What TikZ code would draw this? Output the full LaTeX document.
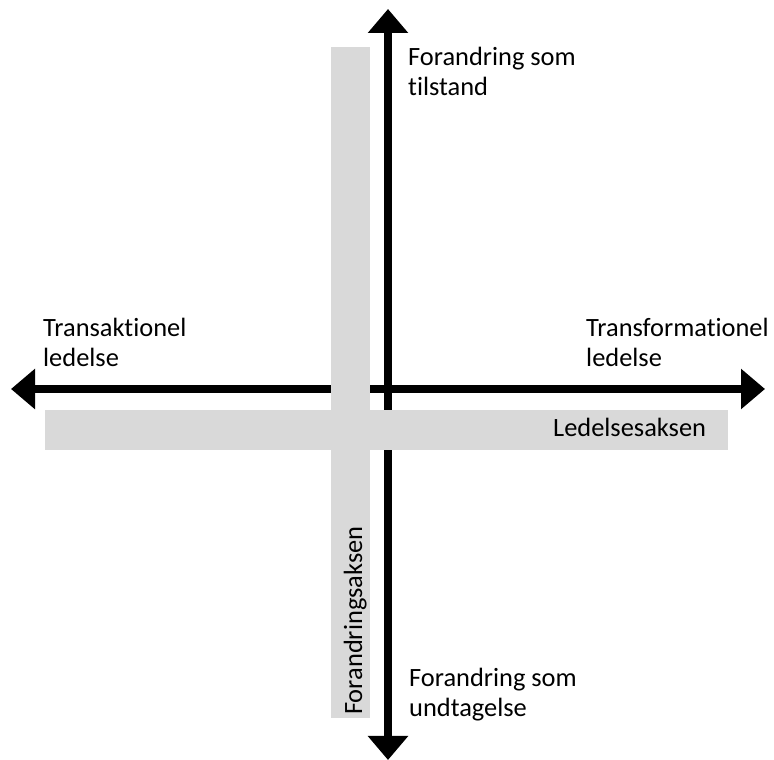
\documentclass[tikz,border=0pt]{standalone}
\usepackage{fontspec}
\setmainfont{Carlito}[Ligatures=NoCommon]
\usetikzlibrary{arrows.meta}
\definecolor{bandgray}{RGB}{217,217,217}

\tikzset{
    akse/.style={line width=8pt, -{Triangle[width=39pt,length=24pt]}},
    band/.style={fill=bandgray},
    lbl/.style={inner sep=0pt, anchor=base west, align=left,
        font=\fontsize{26.4}{30}\selectfont}
}

\begin{document}
\begin{tikzpicture}[x=1pt,y=1pt]
        \useasboundingbox (0,0) rectangle (774,760);
        \coordinate (M) at (388,371);
        \coordinate (L) at (11,371);
        \coordinate (R) at (765,371);
        \coordinate (T) at (388,751);
        \coordinate (B) at (388,0);
        \path
            (M) edge [akse] (L)
                edge [akse] (R)
                edge [akse] (T)
                edge [akse] (B)
            ;
        \fill[band] (331,42) rectangle (370,713);
        \fill[band] (45,310) rectangle (728,350);
        \node[lbl](tilstand) at (408,664) {Forandring som\\tilstand};
        \node[lbl](undtag) at (409,43) {Forandring som\\undtagelse};
        \node[lbl](trans) at (43,393) {Transaktionel\\ledelse};
        \node[lbl](transf) at (586,393) {Transformationel\\ledelse};
        \node[lbl](ledakse) at (553,323) {Ledelsesaksen};
        \node[lbl, rotate=90](foraakse) at (362,45) {Forandringsaksen};
    \end{tikzpicture}
\end{document}
